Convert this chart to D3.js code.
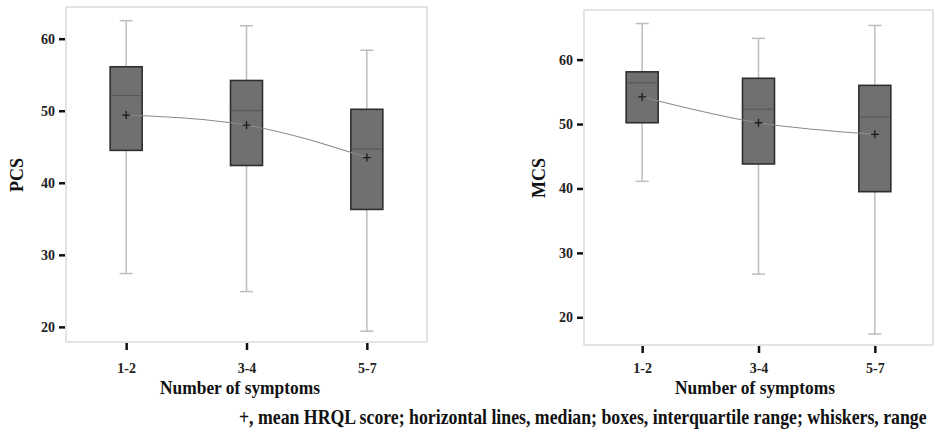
<!DOCTYPE html>
<html>
<head>
<meta charset="utf-8">
<script src="https://cdn.jsdelivr.net/npm/d3@7/dist/d3.min.js"></script>
<style>
  body { margin: 0; background: #fff; }
  svg { display: block; font-family: "Liberation Serif", "Times New Roman", serif; font-weight: bold; }
</style>
</head>
<body>
<svg id="chart" width="935" height="434"></svg>
<script>
// categories and tick labels
const groups = ["1-2", "3-4", "5-7"];
const yTicks = [20, 30, 40, 50, 60];

// PCS (left panel)
const pcsMin = [27.4, 24.9, 19.4];
const pcsQ1 = [44.5, 42.4, 36.3];
const pcsMedian = [52.1, 50.0, 44.7];
const pcsQ3 = [56.1, 54.2, 50.2];
const pcsMax = [62.5, 61.8, 58.4];
const pcsMean = [49.4, 48.0, 43.5];

// MCS (right panel)
const mcsMin = [41.1, 26.7, 17.4];
const mcsQ1 = [50.2, 43.8, 39.5];
const mcsMedian = [56.4, 52.3, 51.1];
const mcsQ3 = [58.1, 57.1, 56.0];
const mcsMax = [65.6, 63.3, 65.3];
const mcsMean = [54.2, 50.2, 48.4];

const svg = d3.select("#chart");

// squeeze a text horizontally so it spans the given width (the original uses a condensed face)
function fitWidth(sel, width, anchorX, baseY) {
  const w = sel.node().getComputedTextLength();
  const k = Math.min(1, width / w);
  sel.attr("x", 0).attr("y", 0)
    .attr("transform", `translate(${anchorX},${baseY}) scale(${k},1)`);
}

function drawPanel(cfg) {
  const { x0, x1, y0, y1, yDomain, title, titleX, titleY, xTitleX } = cfg;
  const data = groups.map((g, i) => ({
    g,
    min: cfg.min[i], q1: cfg.q1[i], med: cfg.med[i],
    q3: cfg.q3[i], max: cfg.max[i], mean: cfg.mean[i]
  }));

  const x = d3.scalePoint().domain(groups).range([x0, x1]).padding(0.5);
  const y = d3.scaleLinear().domain(yDomain).range([y1, y0]);
  const g = svg.append("g");

  // frame
  g.append("rect")
    .attr("x", x0).attr("y", y0)
    .attr("width", x1 - x0).attr("height", y1 - y0)
    .attr("fill", "none").attr("stroke", "#d2d2d2").attr("stroke-width", 1.2);

  // y axis (ticks outside the frame)
  const yAxis = g.append("g")
    .attr("transform", `translate(${x0 - 1},0)`)
    .call(d3.axisLeft(y).tickValues(yTicks).tickSize(6).tickPadding(4));
  yAxis.select(".domain").remove();
  yAxis.selectAll(".tick line").attr("stroke", "#111").attr("stroke-width", 2.5);
  yAxis.selectAll(".tick text")
    .attr("fill", "#222").style("font-size", "14px")
    .style("font-family", "Liberation Serif, serif").style("font-weight", "bold");

  // x axis (ticks below the frame); labels sit on a common baseline in both panels
  const pad = 373 - 10 - (y1 + 8);
  const xAxis = g.append("g")
    .attr("transform", `translate(0,${y1 + 1})`)
    .call(d3.axisBottom(x).tickSize(7).tickPadding(pad));
  xAxis.select(".domain").remove();
  xAxis.selectAll(".tick line").attr("stroke", "#111").attr("stroke-width", 2.5);
  xAxis.selectAll(".tick text")
    .attr("fill", "#222").style("font-size", "14px")
    .style("font-family", "Liberation Serif, serif").style("font-weight", "bold");

  // axis titles
  const xt = g.append("text")
    .attr("text-anchor", "middle")
    .style("font-size", "18px").attr("fill", "#111")
    .text("Number of symptoms");
  fitWidth(xt, 160, xTitleX, 394);

  g.append("text")
    .attr("transform", `translate(${titleX},${titleY}) rotate(-90)`)
    .attr("text-anchor", "middle")
    .style("font-size", "18px").attr("fill", "#111")
    .text(title);

  const bw = 32, cap = 13;

  // whiskers
  g.selectAll(".whisker").data(data).join("line")
    .attr("x1", d => x(d.g)).attr("x2", d => x(d.g))
    .attr("y1", d => y(d.min)).attr("y2", d => y(d.max))
    .attr("stroke", "#bdbdbd").attr("stroke-width", 1.5);
  g.selectAll(".capTop").data(data).join("line")
    .attr("x1", d => x(d.g) - cap / 2).attr("x2", d => x(d.g) + cap / 2)
    .attr("y1", d => y(d.max)).attr("y2", d => y(d.max))
    .attr("stroke", "#bdbdbd").attr("stroke-width", 1.5);
  g.selectAll(".capBot").data(data).join("line")
    .attr("x1", d => x(d.g) - cap / 2).attr("x2", d => x(d.g) + cap / 2)
    .attr("y1", d => y(d.min)).attr("y2", d => y(d.min))
    .attr("stroke", "#bdbdbd").attr("stroke-width", 1.5);

  // boxes
  g.selectAll(".box").data(data).join("rect")
    .attr("x", d => x(d.g) - bw / 2).attr("width", bw)
    .attr("y", d => y(d.q3)).attr("height", d => y(d.q1) - y(d.q3))
    .attr("fill", "#707070").attr("stroke", "#2e2e2e").attr("stroke-width", 1.6);

  // medians
  g.selectAll(".median").data(data).join("line")
    .attr("x1", d => x(d.g) - bw / 2 + 1).attr("x2", d => x(d.g) + bw / 2 - 1)
    .attr("y1", d => y(d.med)).attr("y2", d => y(d.med))
    .attr("stroke", "#555").attr("stroke-width", 1);

  // mean line
  const line = d3.line()
    .x(d => x(d.g)).y(d => y(d.mean))
    .curve(d3.curveMonotoneX);
  g.append("path").datum(data)
    .attr("d", line)
    .attr("fill", "none").attr("stroke", "#8a8a8a").attr("stroke-width", 1.1);

  // mean markers (+)
  g.selectAll(".mean").data(data).join("path")
    .attr("d", d => {
      const cx = x(d.g), cy = y(d.mean);
      return `M${cx - 4},${cy}H${cx + 4}M${cx},${cy - 4}V${cy + 4}`;
    })
    .attr("stroke", "#1a1a1a").attr("stroke-width", 1.3).attr("fill", "none");
}

drawPanel({
  x0: 66, x1: 427, y0: 7, y1: 342, yDomain: [17.9, 64.4],
  min: pcsMin, q1: pcsQ1, med: pcsMedian, q3: pcsQ3, max: pcsMax, mean: pcsMean,
  title: "PCS", titleX: 23, titleY: 175, xTitleX: 240
});

drawPanel({
  x0: 584, x1: 933, y0: 10, y1: 345, yDomain: [15.7, 67.7],
  min: mcsMin, q1: mcsQ1, med: mcsMedian, q3: mcsQ3, max: mcsMax, mean: mcsMean,
  title: "MCS", titleX: 545, titleY: 178, xTitleX: 755
});

// caption
const caption = svg.append("text")
  .attr("text-anchor", "start")
  .style("font-size", "22px").attr("fill", "#111")
  .text("+, mean HRQL score; horizontal lines, median; boxes, interquartile range; whiskers, range");
fitWidth(caption, 688, 239, 424);
</script>
</body>
</html>
